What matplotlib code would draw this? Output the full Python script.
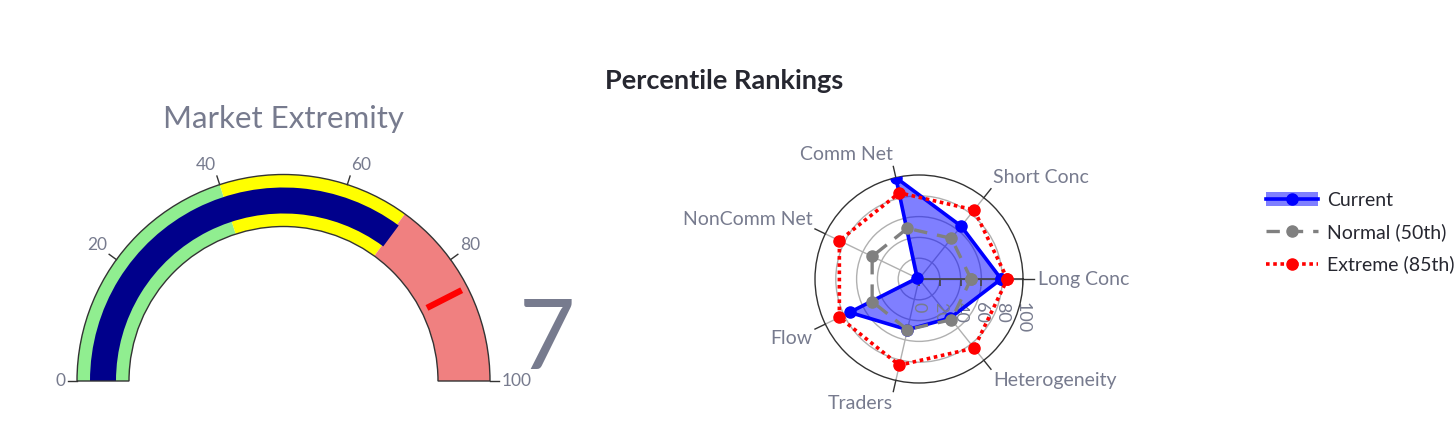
import numpy as np
import matplotlib.pyplot as plt
from matplotlib.patches import Wedge, Patch
from matplotlib.lines import Line2D
from matplotlib.transforms import offset_copy

plt.rcParams['font.family'] = ['Lato', 'DejaVu Sans']

# gauge data
gauge_value = 70.3
gauge_label = "7"  # number shown (clipped in the original)
gauge_threshold = 85
gauge_steps = [(0, 40, '#90ee90'), (40, 70, '#ffff00'), (70, 100, '#f08080')]
gauge_ticks = [0, 20, 40, 60, 80, 100]

# radar data
categories = ['Long Conc', 'Short Conc', 'Comm Net', 'NonComm Net', 'Flow', 'Traders', 'Heterogeneity']
current = [79, 65, 100, 2, 74, 50, 48]
normal = [50, 50, 50, 50, 50, 50, 50]
extreme = [85, 85, 85, 85, 85, 85, 85]
r_ticks = [0, 20, 40, 60, 80, 100]

GRAY = '#777b8e'
DARK = '#262730'
W, H = 1456, 437

fig = plt.figure(figsize=(W / 100, H / 100), dpi=100)

# overlay in pixel units (y up)
ov = fig.add_axes([0, 0, 1, 1])
ov.set_xlim(0, W)
ov.set_ylim(0, H)
ov.axis('off')

ov.text(724, H - 81, 'Percentile Rankings', ha='center', va='center',
        fontsize=19.5, fontweight='bold', color=DARK)

# ---- gauge ----
cx, cy = 283.5, H - 381
r_out, r_in = 206.5, 154.5
thick = r_out - r_in


def ang(v):
    return 180 - 1.8 * v


for lo, hi, col in gauge_steps:
    ov.add_patch(Wedge((cx, cy), r_out, ang(hi), ang(lo), width=thick,
                       facecolor=col, edgecolor='none'))
# bar
ov.add_patch(Wedge((cx, cy), r_out - thick * 0.25, ang(gauge_value), 180,
                   width=thick * 0.5, facecolor='#00008b', edgecolor='none'))
# border
ov.add_patch(Wedge((cx, cy), r_out, 0, 180, width=thick, fill=False,
                   edgecolor='#333333', lw=1))
# threshold
a = np.radians(ang(gauge_threshold))
r1, r2 = r_in + thick * 0.125, r_out - thick * 0.125
ov.plot([cx + r1 * np.cos(a), cx + r2 * np.cos(a)],
        [cy + r1 * np.sin(a), cy + r2 * np.sin(a)], color='red', lw=4.5,
        solid_capstyle='butt')
# ticks
for t in gauge_ticks:
    a = np.radians(ang(t))
    c, s = np.cos(a), np.sin(a)
    ov.plot([cx + r_out * c, cx + (r_out + 9) * c],
            [cy + r_out * s, cy + (r_out + 9) * s], color='#333333', lw=1)
    ha = 'right' if c < -0.01 else ('left' if c > 0.01 else 'center')
    va = 'center' if s < 0.1 else 'bottom'
    rr = r_out + 12
    ov.text(cx + rr * c, cy + rr * s, str(t), ha=ha, va=va, fontsize=12.5,
            color=GRAY)

ov.text(cx, H - 119, 'Market Extremity', ha='center', va='center',
        fontsize=22.5, color=GRAY)
ov.text(547, H - 369, gauge_label, ha='center', va='baseline', fontsize=70,
        color=GRAY)

# ---- radar ----
pc_x, pc_y, pr = 919, 279, 104
ax = fig.add_axes([(pc_x - pr) / W, (H - pc_y - pr) / H, 2 * pr / W, 2 * pr / H],
                  projection='polar')
theta = np.linspace(0, 2 * np.pi, len(categories), endpoint=False)
th_c = np.append(theta, theta[0])

ax.set_ylim(0, 100)
ax.set_yticks([20, 40, 60, 80])
ax.set_yticklabels([])
ax.set_xticks(theta)
ax.set_xticklabels([])
ax.grid(True, color='#b0b0b0', lw=1)
ax.spines['polar'].set_color('#333333')
ax.spines['polar'].set_linewidth(1)
ax.tick_params(length=0)

cur_c = np.append(current, current[0])
nor_c = np.append(normal, normal[0])
ext_c = np.append(extreme, extreme[0])

ax.fill(th_c, cur_c, color='blue', alpha=0.5, lw=0, zorder=2)
# radial axis
ax.plot([0, 0], [0, 100], color='#444444', lw=1.2, zorder=2.5)
tick_tr = offset_copy(ax.transData, fig=fig, y=-3.5, units='dots')
ax.plot([0] * len(r_ticks), r_ticks, ls='none', marker='|', ms=5,
        mew=1.2, color='#444444', transform=tick_tr, zorder=2.5)
lab_tr = offset_copy(ax.transData, fig=fig, y=-23, units='dots')
for r in r_ticks:
    ax.text(0, r, str(r), rotation=-90, ha='center', va='top', fontsize=13,
            color=GRAY, transform=lab_tr, zorder=2.5)

ax.plot(th_c, cur_c, color='blue', lw=2.6, marker='o', ms=8, zorder=3)
ax.plot(th_c, nor_c, color='gray', lw=2.4, ls=(0, (4, 3)), marker='o', ms=8,
        zorder=3)
ax.plot(th_c, ext_c, color='red', lw=2.6, ls=(0, (1, 1)), marker='o', ms=8,
        zorder=3)

for t, lab in zip(theta, categories):
    ax.plot([t, t], [100, 111], color='#333333', lw=1, clip_on=False)
    c, s = np.cos(t), np.sin(t)
    ha = 'left' if c > 0.01 else 'right'
    va = 'center' if abs(s) < 0.1 else ('bottom' if s > 0 else 'top')
    ax.text(t, 114, lab, ha=ha, va=va, fontsize=14, color=GRAY, clip_on=False)

# ---- legend ----
handles = [
    (Patch(facecolor='blue', alpha=0.5, edgecolor='none'),
     Line2D([], [], color='blue', lw=2.6, marker='o', ms=8)),
    Line2D([], [], color='gray', lw=2.4, ls=(0, (4, 3)), marker='o', ms=8),
    Line2D([], [], color='red', lw=2.6, ls=(0, (1, 1)), marker='o', ms=8),
]
fig.legend(handles, ['Current', 'Normal (50th)', 'Extreme (85th)'],
           loc='upper left', bbox_to_anchor=(1260 / W, 1 - 186 / H),
           frameon=False, fontsize=14, handlelength=2.7, handletextpad=0.45,
           labelspacing=0.74, labelcolor=DARK, borderaxespad=0, borderpad=0.3)

fig.savefig('out.png', dpi=100)
